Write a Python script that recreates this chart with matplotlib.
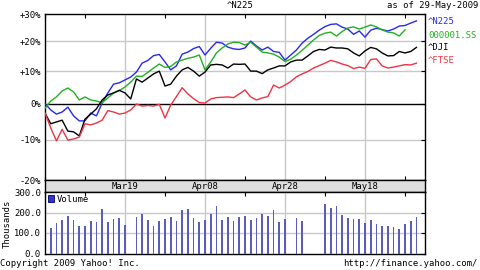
import numpy as np
import pandas as pd
import matplotlib
matplotlib.use('Agg')
import matplotlib.pyplot as plt
from matplotlib.ticker import MultipleLocator, NullLocator
from matplotlib.patches import Patch

# trading days shown on the chart (one slot per weekday)
dates = pd.bdate_range('2009-02-27', '2009-05-29')

# % change
n225 = [0, -1.8, -3, -2.4, -1, -3.5, -4.9, -4.9, -2.7, -3.5, 0.2, 3.2, 5.9, 6.3, 7.2, 8.1,
        9.7, 12.6, 13.5, 15.1, 15.5, 13, 10.4, 11.7, 15.6, 16.3, 17.5, 18.2, 15.3, 17.6, 19.7,
        19.4, 18, 17.4, 17.2, 17.7, 20.1, 18.4, 17, 18, 16.5, 16.2, 13.6, 15.3, 17, 19.4, 21.1,
        22.5, 24, 25.3, 26.1, 26.3, 25.1, 24.4, 22.5, 23.7, 21.5, 24, 24.7, 24.2, 23.7, 24.4,
        25.5, 25.7, 26.6, 27.4]
sse = [-1.3, 0.8, 2, 3.8, 4.7, 3.5, 1.1, 2, 1.1, 0.8, 0.3, 1.7, 3.2, 3.9, 5, 6.5, 8.4, 8.3,
       9.6, 11, 12.3, 11.2, 11.5, 13, 13.6, 14.2, 14.6, 15.3, 10.4, 13, 16, 17.7, 19.1, 19.7,
       19.6, 18.7, 19.7, 18, 16.3, 16, 15.6, 14.6, 13.1, 13.9, 15.3, 16.9, 18.7, 20.5, 22.1,
       22.9, 23.3, 21.9, 23.5, 24.8, 25.2, 24.4, 25.1, 25.9, 25.2, 24.1, 23.3, 23, 21.9, 24.1]
dji = [-2.7, -5.7, -5.2, -4.7, -7.7, -7.9, -9, -4.4, -3, -1.5, 1.1, 2.6, 3.2, 4, 3.2, 1.4,
       7.5, 6.5, 7.8, 9.1, 10, 5.3, 5.9, 8.4, 10.4, 11.2, 10, 8.4, 9.7, 12, 12.2, 12, 11, 12.3,
       12.2, 12.3, 10, 10, 9.2, 10.4, 11, 11.7, 11.7, 13, 13.6, 13.6, 15, 16.5, 17.2, 17, 18,
       17.7, 17.7, 17.4, 16, 15, 16.7, 17.9, 17.4, 16, 15, 15.1, 16.5, 16, 16.5, 17.9]
ftse = [-2.7, -6.8, -10.3, -7.2, -10.1, -9.8, -9.3, -5.7, -6, -5.5, -4.7, -2, -2.4, -3, -2.7,
        -1.8, -0.1, -0.7, -0.5, -0.7, -0.2, -4.1, -0.4, 2.1, 4.8, 2.9, 1.5, 0.35, 0.2, 1.4, 1.8,
        1.9, 2, 1.8, 2.9, 4.1, 2, 1.1, 1.7, 2.1, 5.6, 4.7, 5.6, 6.7, 8.2, 9.1, 9.9, 11, 11.8,
        12.6, 13.5, 13, 12.3, 11.8, 10.8, 11.3, 10.9, 13.8, 14, 11.7, 11, 11.3, 11.7, 12.1, 12,
        12.6]
# ^N225 volume, thousands (None = market closed)
volume = [None, 123, 148, 162, 185, 162, 135, 133, 158, 153, 215, 153, 170, 175, 138, None,
          180, 192, 163, 133, 158, 167, 180, 158, 210, 215, 175, 153, 165, 193, 232, 165, 180,
          158, 177, 185, 165, 173, 193, 185, 210, 152, 168, None, 175, 158, None, None, None,
          240, 220, 232, 188, 175, 170, 170, 148, 165, 142, 133, 133, 127, 118, 145, 158, 177]

series_names = ['^N225', '000001.SS', '^DJI', '^FTSE']
series_colors = ['#2828f0', '#22b022', '#000000', '#ee3344']
label_dates = ['2009-03-19', '2009-04-08', '2009-04-28', '2009-05-18']
pct_ticks = [-20, -10, 0, 10, 20, 30]
vol_ticks = [0, 100, 200, 300]

plt.rcParams['font.family'] = ['DejaVu Sans Mono']
FS = 6.4
W, H = 480, 270
def box(l, t, r, b):
    return [l / W, 1 - b / H, (r - l) / W, (b - t) / H]

fig = plt.figure(figsize=(4.8, 2.7), dpi=100)
fig.patch.set_facecolor('white')
ax = fig.add_axes(box(45, 14, 425, 180))
band = fig.add_axes(box(45, 180, 425, 192))
axv = fig.add_axes(box(45, 192, 425, 253.5))

x = np.arange(len(dates))
major = [dates.get_loc(pd.Timestamp(d)) for d in label_dates]
xlim = (0, len(dates) + 0.5)

# ── main panel (log scale of 1+change) ──
for s, c in zip([n225, sse, dji, ftse], series_colors):
    v = 1 + np.array(s, dtype=float) / 100
    ax.plot(x[:len(v)], v, color=c, lw=1.0, zorder=3)
ax.set_yscale('log')
ax.set_ylim(0.8, 1.3)
ax.set_xlim(*xlim)
ax.set_yticks([1 + p / 100 for p in pct_ticks])
ax.set_yticklabels([('+%d%%' % p) if p > 0 else ('%d%%' % p) for p in pct_ticks], fontsize=FS)
ax.yaxis.set_minor_locator(NullLocator())
for p in pct_ticks[1:-1]:
    if p == 0:
        ax.axhline(1.0, color='black', lw=1.0, zorder=2)
    else:
        ax.axhline(1 + p / 100, color='#c8c8c8', lw=1.0, zorder=1)
for m in major:
    ax.axvline(m, color='#c8c8c8', lw=1.0, zorder=1)
ax.set_xticks(major)
ax.set_xticklabels([])
ax.xaxis.set_minor_locator(MultipleLocator(7))
ax.tick_params(axis='x', which='both', direction='in', top=True, bottom=True, length=0)
ax.tick_params(axis='x', which='minor', length=3, width=0.8)
ax.tick_params(axis='y', which='major', left=False, right=True, direction='in',
               length=3, width=0.8, pad=3)

# ── date band ──
band.set_facecolor('#dedede')
band.set_xlim(*xlim)
band.set_ylim(0, 1)
band.set_xticks([]); band.set_yticks([])
for m, d in zip(major, label_dates):
    band.text(m, 0.45, pd.Timestamp(d).strftime('%b%d'), ha='center', va='center', fontsize=FS)

# ── volume panel ──
vx = [i for i, v in zip(x, volume) if v is not None]
vv = [v for v in volume if v is not None]
axv.bar(vx, vv, width=0.28, color='#5c5cbc', zorder=3)
axv.set_xlim(*xlim)
axv.set_ylim(0, 300)
axv.set_yticks(vol_ticks)
axv.set_yticklabels(['%.1f' % v for v in vol_ticks], fontsize=FS)
for v in vol_ticks[1:-1]:
    axv.axhline(v, color='#c8c8c8', lw=1.0, zorder=1)
for m in major:
    axv.axvline(m, color='#c8c8c8', lw=1.0, zorder=1)
axv.set_xticks(major)
axv.set_xticklabels([])
axv.xaxis.set_minor_locator(MultipleLocator(7))
axv.tick_params(axis='x', which='both', top=True, bottom=False, direction='in', length=0)
axv.tick_params(axis='x', which='minor', length=3, width=0.8)
axv.tick_params(axis='y', left=False, right=True, direction='in', length=3, width=0.8, pad=3)
axv.legend(handles=[Patch(facecolor='#3333cc', edgecolor='#000066', lw=0.6)], labels=['Volume'],
           loc='upper left', frameon=False, fontsize=FS, handlelength=0.7, handleheight=0.7,
           handletextpad=0.3, borderaxespad=0.1, borderpad=0.2)

for a in (ax, band, axv):
    for sp in a.spines.values():
        sp.set_color('black'); sp.set_linewidth(1.0)

# ── texts ──
fig.text(240 / W, 1 - 6 / H, '^N225', ha='center', va='center', fontsize=FS)
fig.text(478 / W, 1 - 6 / H, 'as of 29-May-2009', ha='right', va='center', fontsize=FS)
for i, (nm, c) in enumerate(zip(series_names, series_colors)):
    fig.text(428 / W, 1 - (22 + 13 * i) / H, nm, ha='left', va='center', fontsize=FS, color=c)
fig.text(7 / W, 1 - 224 / H, 'Thousands', rotation=90, ha='center', va='center', fontsize=FS)
fig.text(0, 1 - 263 / H, 'Copyright 2009 Yahoo! Inc.', ha='left', va='center', fontsize=FS)
fig.text(478 / W, 1 - 263 / H, 'http://finance.yahoo.com/', ha='right', va='center', fontsize=FS)

fig.savefig('out.png', dpi=100)
